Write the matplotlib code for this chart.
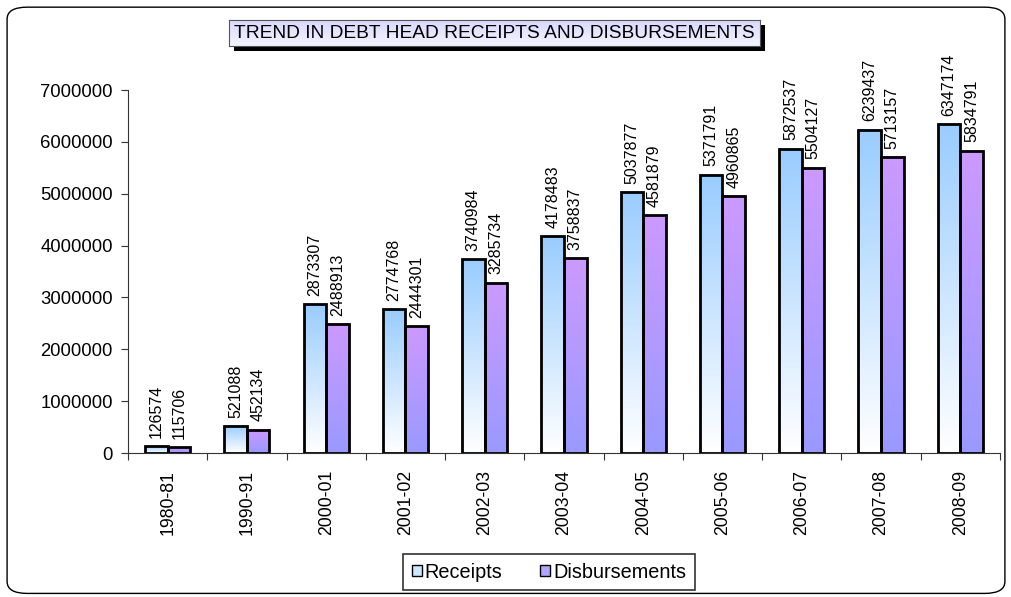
import numpy as np
import matplotlib
matplotlib.use("Agg")
import matplotlib.pyplot as plt
from matplotlib.patches import Rectangle, FancyBboxPatch
from matplotlib.colors import LinearSegmentedColormap

years = ["1980-81", "1990-91", "2000-01", "2001-02", "2002-03", "2003-04",
         "2004-05", "2005-06", "2006-07", "2007-08", "2008-09"]
receipts = [126574, 521088, 2873307, 2774768, 3740984, 4178483,
            5037877, 5371791, 5872537, 6239437, 6347174]
disbursements = [115706, 452134, 2488913, 2444301, 3285734, 3758837,
                 4581879, 4960865, 5504127, 5713157, 5834791]

plt.rcParams["font.family"] = ["Liberation Sans", "DejaVu Sans"]

# gradients run bottom -> top
rec_cmap = LinearSegmentedColormap.from_list("rec", ["#ffffff", "#99ccff"])
dis_cmap = LinearSegmentedColormap.from_list("dis", ["#9999ff", "#cc99ff"])
grad = np.linspace(0, 1, 256).reshape(-1, 1)

fig = plt.figure(figsize=(10.12, 5.97), dpi=100)

# rounded outer frame
fig.patches.append(FancyBboxPatch((0.007, 0.006), 0.986, 0.982,
                                  boxstyle="round,pad=0,rounding_size=0.02",
                                  transform=fig.transFigure, fill=False,
                                  edgecolor="black", linewidth=1.0))

ax = fig.add_axes([0.1265, 0.2412, 0.8615, 0.6078])
ymax = 7000000
w = 0.285


def gradient_bar(x0, h, cmap):
    ax.imshow(grad, cmap=cmap, origin="lower", aspect="auto",
              extent=(x0, x0 + w, 0, h), zorder=2)
    ax.add_patch(Rectangle((x0, 0), w, h, facecolor="none",
                           edgecolor="black", linewidth=2.0, zorder=3))


for i, (r, d) in enumerate(zip(receipts, disbursements)):
    c = i + 0.5
    gradient_bar(c - w, r, rec_cmap)
    gradient_bar(c, d, dis_cmap)
    ax.annotate(str(r), (c - w / 2, r), xytext=(0, 6),
                textcoords="offset points", rotation=90, ha="center",
                va="bottom", fontsize=11.5)
    ax.annotate(str(d), (c + w / 2, d), xytext=(0, 6),
                textcoords="offset points", rotation=90, ha="center",
                va="bottom", fontsize=11.5)

ax.set_xlim(0, len(years))
ax.set_ylim(0, ymax)
ax.set_yticks(np.arange(0, 7000001, 1000000))
ax.set_yticklabels([str(v) for v in range(0, 7000001, 1000000)], fontsize=13.3)
ax.set_xticks(np.arange(0, len(years) + 1))
ax.set_xticklabels([])
ax.set_xticks(np.arange(len(years)) + 0.5, minor=True)
ax.set_xticklabels(years, minor=True, rotation=90, fontsize=12.7)
ax.tick_params(axis="x", which="minor", length=0, pad=12)
ax.tick_params(axis="x", which="major", length=5, direction="out",
               color="#333333")
ax.tick_params(axis="y", length=5, direction="out", color="#333333", pad=6)
for s in ["top", "right"]:
    ax.spines[s].set_visible(False)
ax.spines["left"].set_color("#333333")
ax.spines["bottom"].set_color("#333333")

# title box with drop shadow
tx0, ty0, tw, th = 229 / 1012, 1 - 46 / 597, 531 / 1012, 26 / 597
shadow = Rectangle((tx0 + 5 / 1012, ty0 - 5 / 597), tw, th,
                   transform=fig.transFigure, facecolor="black",
                   edgecolor="none", zorder=0)
fig.patches.append(shadow)
tax = fig.add_axes([tx0, ty0, tw, th])
tax.set_zorder(5)
tax.imshow(grad, cmap=LinearSegmentedColormap.from_list(
    "t", ["#f4f4ff", "#d8d8ff"]), origin="lower", aspect="auto",
    extent=(0, 1, 0, 1))
tax.set_xlim(0, 1)
tax.set_ylim(0, 1)
tax.set_xticks([])
tax.set_yticks([])
for s in tax.spines.values():
    s.set_color("#555555")
tax.text(0.5, 0.48, "TREND IN DEBT HEAD RECEIPTS AND DISBURSEMENTS",
         ha="center", va="center", fontsize=13.8)

# legend
handles = [Rectangle((0, 0), 1, 1, facecolor="#cfe6ff", edgecolor="black"),
           Rectangle((0, 0), 1, 1, facecolor="#b3a6ff", edgecolor="black")]
leg = fig.legend(handles, ["Receipts", "Disbursements"], loc="center",
                 bbox_to_anchor=(549 / 1012, 1 - 572 / 597), ncol=2,
                 fontsize=14.3, frameon=True, fancybox=False,
                 handlelength=0.5, handleheight=0.5, handletextpad=0.15,
                 columnspacing=1.9, borderpad=0.45, borderaxespad=0,
                 labelspacing=0)
leg.get_frame().set_edgecolor("black")
leg.get_frame().set_linewidth(1.2)

fig.savefig("out.png", dpi=100)
